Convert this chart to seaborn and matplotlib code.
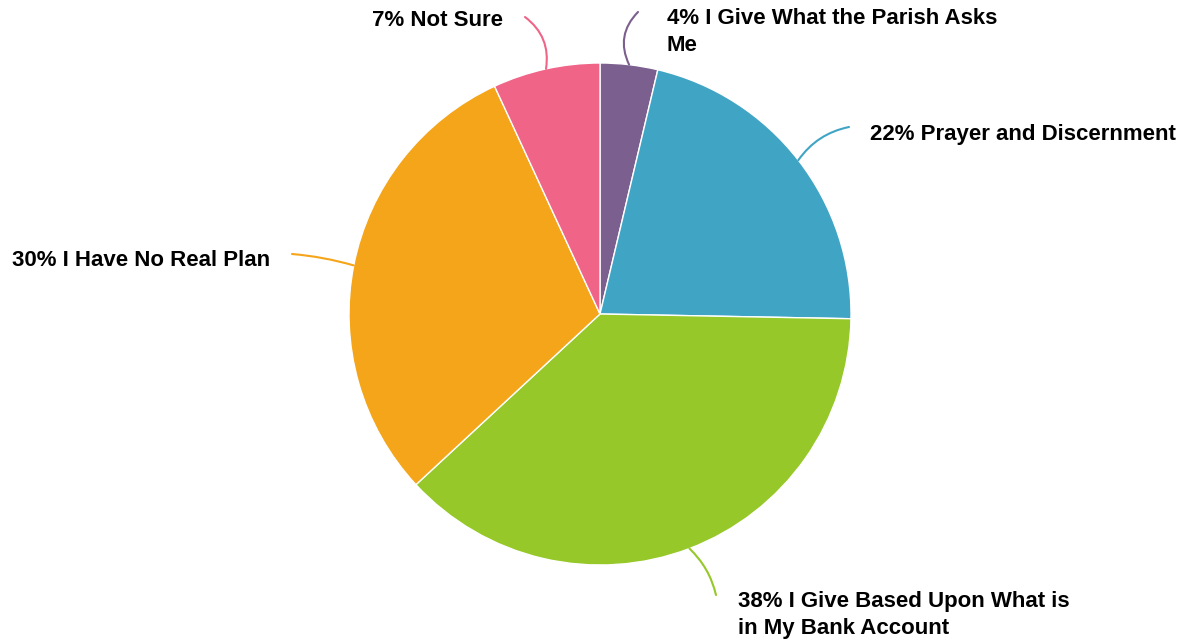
import numpy as np
import matplotlib
matplotlib.use("Agg")
import matplotlib.pyplot as plt
import seaborn as sns

# slices clockwise from 12 o'clock
categories = ["I Give What the Parish Asks Me", "Prayer and Discernment",
              "I Give Based Upon What is in My Bank Account",
              "I Have No Real Plan", "Not Sure"]
shares = [3.7, 21.6, 37.8, 30.0, 6.9]
pct_labels = ["4%", "22%", "38%", "30%", "7%"]
label_text = ["4% I Give What the Parish Asks\nMe",
              "22% Prayer and Discernment",
              "38% I Give Based Upon What is\nin My Bank Account",
              "30% I Have No Real Plan",
              "7% Not Sure"]
colors = ["#7b5f8e", "#40a4c4", "#95c828", "#f5a51a", "#f06488"]

sns.set_theme(style="white")
plt.rcParams['font.family'] = ['Liberation Sans', 'DejaVu Sans']

W, H = 1187, 642
cx, cy, R = 600, 314, 251

fig = plt.figure(figsize=(W / 100, H / 100), dpi=100)
ax = fig.add_axes([0, 0, 1, 1])

wedges, _ = ax.pie(shares, colors=colors, startangle=90, counterclock=False,
                   radius=1.0, center=(0, 0),
                   wedgeprops=dict(edgecolor="white", linewidth=1))
ax.set_xlim(-cx / R, (W - cx) / R)
ax.set_ylim(-(H - cy) / R, cy / R)
ax.set_aspect("equal")
ax.axis("off")


def px(x, y):
    return ((x - cx) / R, (cy - y) / R)


# leader end (pixel), text anchor (pixel), alignment, curvature
layout = [
    ((638, 12), (667, 32), "left", -0.35),
    ((849, 127), (870, 134), "left", -0.2),
    ((716, 595), (738, 615), "left", -0.15),
    ((292, 254), (270, 260), "right", 0.05),
    ((525, 17), (503, 20), "right", 0.3),
]

for w, col, txt, (end, tpos, ha, rad) in zip(wedges, colors, label_text, layout):
    mid = np.deg2rad((w.theta1 + w.theta2) / 2)
    start = (np.cos(mid), np.sin(mid))
    ax.annotate("", xy=px(*end), xytext=start,
                arrowprops=dict(arrowstyle="-", color=col, lw=1.5,
                                shrinkA=0, shrinkB=0,
                                connectionstyle=f"arc3,rad={rad}"))
    ax.text(*px(*tpos), txt, ha=ha, va="center", fontsize=16,
            fontweight="bold", color="black", linespacing=1.32)

fig.savefig("out.png", dpi=100, facecolor="white")
